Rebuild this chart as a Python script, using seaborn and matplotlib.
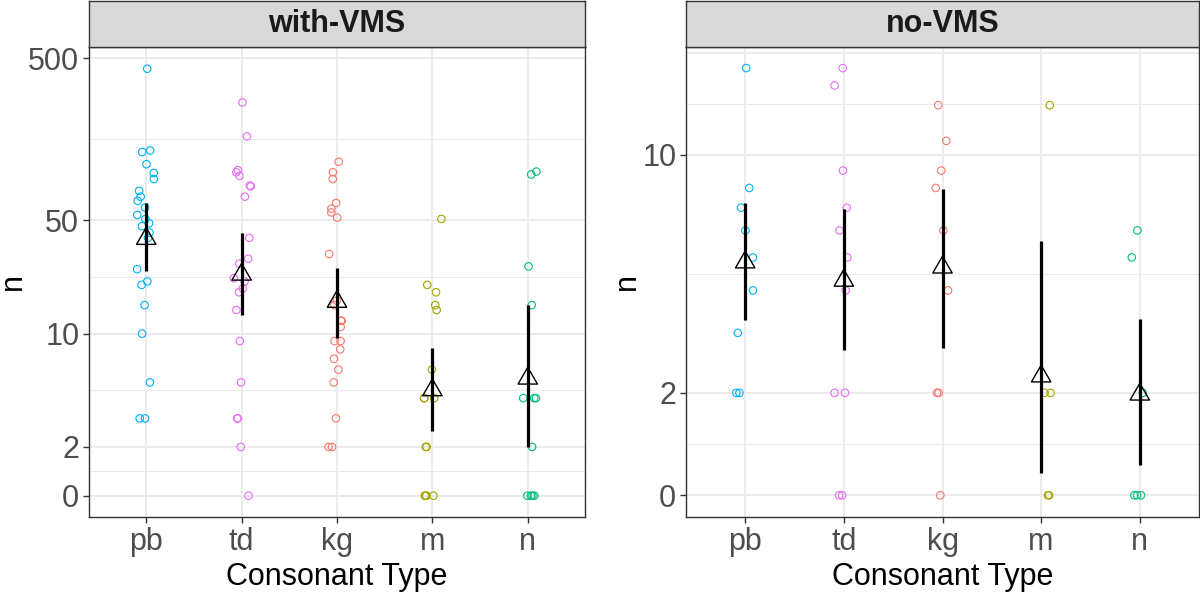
import numpy as np
import pandas as pd
import matplotlib
matplotlib.use("Agg")
import matplotlib.pyplot as plt
from matplotlib.ticker import NullFormatter
import seaborn as sns

cats = ["pb", "td", "kg", "m", "n"]
colors = {"pb": "#00B0F6", "td": "#E76BF3", "kg": "#F8766D", "m": "#A3A500", "n": "#00BF7D"}

# counts (with-VMS panel)
vms_pb = [431, 135, 132, 111, 98, 90, 76, 70, 66, 60, 54, 51, 48, 46, 42, 39, 25, 21, 20, 15, 10, 5, 3, 3]
vms_td = [267, 165, 102, 99, 94, 82, 81, 70, 39, 29, 27, 22, 21, 19, 18, 14, 9, 5, 3, 3, 2, 0]
vms_kg = [115, 99, 90, 64, 59, 56, 52, 31, 16, 15, 12, 12, 11, 9, 9, 8, 7, 6, 5, 3, 2, 2]
vms_m = [51, 20, 18, 15, 14, 6, 4, 4, 4, 2, 2, 0, 0, 0, 0]
vms_n = [100, 96, 26, 15, 4, 4, 4, 2, 0, 0, 0, 0]

# no-VMS panel
novms_pb = [18, 8, 7, 6, 5, 4, 3, 2, 2]
novms_td = [18, 16, 9, 7, 6, 5, 4, 2, 2, 0, 0]
novms_kg = [14, 11, 9, 8, 6, 4, 2, 2, 0]
novms_m = [14, 2, 2, 0, 0]
novms_n = [6, 5, 2, 0, 0, 0]

# error bar ends
vms_lo = [24.4, 13.0, 9.4, 2.5, 2.0]
vms_hi = [64.0, 41.8, 25.4, 8.2, 15.1]
novms_lo = [3.28, 2.68, 2.71, 1.16, 1.23]
novms_hi = [7.23, 6.92, 7.93, 5.59, 3.29]

vms_ticks = [1, 2, 10, 50, 500]
vms_labels = ["0", "2", "10", "50", "500"]
novms_ticks = [1, 2, 10]
novms_labels = ["0", "2", "10"]


def make_df(groups):
    rows = []
    for c, vals in zip(cats, groups):
        for v in vals:
            rows.append({"type": c, "n": v})
    df = pd.DataFrame(rows)
    df["y"] = df["n"].clip(lower=1)  # zeros sit on the bottom line
    return df


sns.set_theme(style="white")
plt.rcParams["font.family"] = ["Liberation Sans", "DejaVu Sans"]

W, H = 1200, 592
fig = plt.figure(figsize=(12, 5.92), dpi=100)

tri = [(0, 1), (-0.866, -0.5), (0.866, -0.5), (0, 1)]
grid_col = "#EBEBEB"
border = "#333333"
fs = 22


def panel(x0, x1, df, lo, hi, ticks, labels, ylim, extra_grid, title):
    top, bottom = 47, 517
    ax = fig.add_axes([x0 / W, (H - bottom) / H, (x1 - x0) / W, (bottom - top) / H])
    np.random.seed(3)
    sns.stripplot(data=df, x="type", y="y", hue="type", order=cats, hue_order=cats,
                  palette=colors, jitter=0.1, size=5.4, linewidth=0.8,
                  log_scale=(False, True), legend=False, ax=ax, zorder=3)
    for coll in ax.collections:
        fc = coll.get_facecolors()
        coll.set_edgecolors(fc)
        coll.set_facecolors("none")

    # geometric means (same as a mean on the log axis)
    means = np.exp(np.log(df["y"]).groupby(df["type"]).mean()).reindex(cats)
    pos = np.arange(len(cats))
    ax.vlines(pos, lo, hi, color="black", lw=2.3, zorder=4)
    ax.scatter(pos, means.values, marker=tri, s=260, facecolors="none",
               edgecolors="black", linewidths=1.0, zorder=5)

    ax.set_yticks(ticks, labels)
    minors = [np.sqrt(a * b) for a, b in zip(ticks[:-1], ticks[1:])]
    if extra_grid:
        minors.append(np.sqrt(ticks[-1] * extra_grid))
        ax.axhline(extra_grid, color=grid_col, lw=1.4, zorder=0)
    ax.set_yticks(minors, minor=True)
    ax.yaxis.set_minor_formatter(NullFormatter())
    ax.set_ylim(*ylim)
    ax.set_xlim(-0.6, 4.6)
    ax.set_axisbelow(True)
    ax.grid(which="major", color=grid_col, lw=1.4)
    ax.grid(which="minor", axis="y", color=grid_col, lw=0.7)
    ax.tick_params(which="major", labelsize=fs, labelcolor="#4D4D4D", color=border,
                   length=4, width=1, pad=3, left=True, bottom=True)
    ax.tick_params(which="minor", length=0)
    for s in ax.spines.values():
        s.set_color(border)
        s.set_linewidth(1.0)
    ax.set_xlabel("Consonant Type", fontsize=fs, color="black", labelpad=4)
    ax.set_ylabel("n", fontsize=fs, color="black", labelpad=0)

    st = fig.add_axes([x0 / W, (H - top) / H, (x1 - x0) / W, (top - 1) / H])
    st.set_facecolor("#D9D9D9")
    st.set_xticks([])
    st.set_yticks([])
    for s in st.spines.values():
        s.set_color(border)
        s.set_linewidth(1.0)
    st.text(0.5, 0.5, title, ha="center", va="center", fontsize=fs,
            fontweight="bold", color="#1A1A1A", transform=st.transAxes)
    return ax


df_vms = make_df([vms_pb, vms_td, vms_kg, vms_m, vms_n])
df_novms = make_df([novms_pb, novms_td, novms_kg, novms_m, novms_n])

panel(89, 585, df_vms, vms_lo, vms_hi, vms_ticks, vms_labels, (0.739, 587), None, "with-VMS")
panel(686, 1199, df_novms, novms_lo, novms_hi, novms_ticks, novms_labels, (0.8635, 20.76), 20, "no-VMS")

fig.savefig("out.png", dpi=100)
